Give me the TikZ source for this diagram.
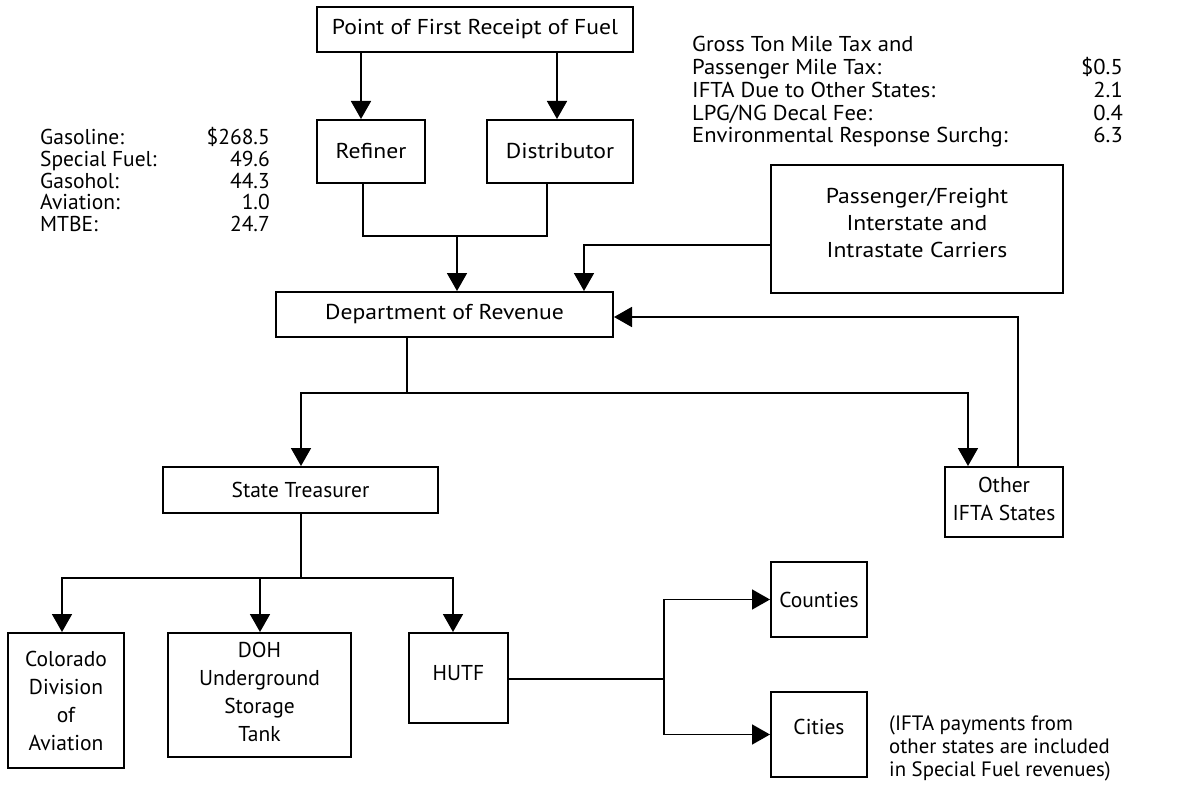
\documentclass[tikz,border=0pt]{standalone}
\usepackage{fontspec}
\setmainfont{PT Sans}
\newfontfamily\wfont{PT Sans}[FakeStretch=1.1]
\newfontfamily\rfont{PT Sans}[FakeStretch=1.05]
\usetikzlibrary{arrows.meta}
\begin{document}
\begin{tikzpicture}[x=1pt,y=-1pt,
  box/.style={draw,line width=2pt,inner sep=0pt,align=center,
    font=\fontsize{21.5}{28}\selectfont},
  wbox/.style={box,font=\wfont\fontsize{21.5}{27}\selectfont},
  txt/.style={inner sep=0pt,font=\fontsize{21.5}{22}\selectfont},
  rtxt/.style={inner sep=0pt,font=\rfont\fontsize{21.5}{22}\selectfont},
  ntxt/.style={inner sep=0pt,font=\fontsize{20.8}{22}\selectfont},
  ln/.style={line width=1.7pt},
  arr/.style={line width=1.7pt,-{Triangle[length=18pt,width=20pt]}}]
\useasboundingbox (0,0) rectangle (1195,789);
% boxes
\node[wbox,minimum width=316pt,minimum height=45pt] (pfr) at (475,29.5) {Point of First Receipt of Fuel};
\node[wbox,minimum width=108pt,minimum height=63pt] (refiner) at (371,151.5) {Refiner};
\node[wbox,minimum width=146pt,minimum height=63pt] (dist) at (560,151.5) {Distributor};
\node[wbox,minimum width=292pt,minimum height=128pt] (pass) at (917,229) {};
\node[wbox,draw=none,inner sep=0pt] (passtext) at (917,223) {Passenger/Freight\\Interstate and\\Intrastate Carriers};
\node[wbox,minimum width=337pt,minimum height=45pt] (dor) at (444.5,314.5) {Department of Revenue};
\node[box,minimum width=275pt,minimum height=46pt] (st) at (300.5,490) {State Treasurer};
\node[box,minimum width=118pt,minimum height=70pt] (other) at (1004,502) {};
\node[box,draw=none] (othertext) at (1004,499) {Other\\IFTA States};
\node[box,minimum width=116pt,minimum height=135pt] (col) at (66,700.5) {Colorado\\Division\\of\\Aviation};
\node[box,minimum width=183pt,minimum height=124pt] (doh) at (259.5,695) {};
\node[box,draw=none] (dohtext) at (259.5,691.5) {DOH\\Underground\\Storage\\Tank};
\node[box,minimum width=99pt,minimum height=90pt] (hutf) at (458.5,678) {\raisebox{10pt}{HUTF}};
\node[box,minimum width=96pt,minimum height=75pt] (counties) at (819,599.5) {Counties};
\node[box,minimum width=96pt,minimum height=85pt] (cities) at (819,734.5) {\raisebox{15pt}{Cities}};
% left list
\foreach \n/\l/\v [count=\i] in {0/Gasoline:/\$268.5, 1/Special Fuel:/49.6, 2/Gasohol:/44.3, 3/Aviation:/1.0, 4/MTBE:/24.7}{
  \node[txt,anchor=base west] (ll\i) at (40,{145+21.6*\n}) {\l};
  \node[txt,anchor=base east] (lv\i) at (270,{145+21.6*\n}) {\v};
}
% right list
\node[rtxt,anchor=base west] (rl0) at (692,52) {Gross Ton Mile Tax and};
\foreach \n/\l/\v [count=\i] in {1/Passenger Mile Tax:/\$0.5, 2/IFTA Due to Other States:/2.1, 3/{LPG/NG Decal Fee:}/0.4, 4/Environmental Response Surchg:/6.3}{
  \node[rtxt,anchor=base west] (rl\i) at (692,{52+22.7*\n}) {\l};
  \node[rtxt,anchor=base east] (rv\i) at (1123,{52+22.7*\n}) {\v};
}
% note
\node[ntxt,anchor=base west] (n1) at (889,730) {(IFTA payments from};
\node[ntxt,anchor=base west] (n2) at (889,753) {other states are included};
\node[ntxt,anchor=base west] (n3) at (889,776) {in Special Fuel revenues)};
% coordinates
\coordinate (a1) at (361,0);
\coordinate (a2) at (557,0);
\coordinate (b1) at (363,0);
\coordinate (b2) at (547,0);
\coordinate (j1) at (457,236);
\coordinate (k) at (584,245);
\coordinate (m) at (1018,317);
\coordinate (j2) at (407,393);
\coordinate (c1) at (301,0);
\coordinate (c2) at (968,0);
\coordinate (j3) at (301,578);
\coordinate (d1) at (62,0);
\coordinate (d2) at (260,0);
\coordinate (d3) at (453,0);
\coordinate (j4) at (664,679);
% connectors
\draw[arr] (a1 |- pfr.south) -- (a1 |- refiner.north);
\draw[arr] (a2 |- pfr.south) -- (a2 |- dist.north);
\draw[ln] (b1 |- refiner.south) |- (j1) -| (b2 |- dist.south);
\draw[arr] (j1) -- (j1 |- dor.north);
\draw[arr] (k -| pass.west) -- (k) -- (k |- dor.north);
\draw[arr] (m |- other.north) -- (m) -- (m -| dor.east);
\draw[ln] (j2 |- dor.south) -- (j2);
\draw[arr] (j2) -| (c1 |- st.north);
\draw[arr] (j2) -| (c2 |- other.north);
\draw[ln] (c1 |- st.south) -- (j3);
\draw[arr] (j3) -| (d1 |- col.north);
\draw[arr] (d2 |- j3) -- (d2 |- doh.north);
\draw[arr] (j3) -| (d3 |- hutf.north);
\draw[ln] (j4 -| hutf.east) -- (j4);
\draw[arr] (j4) |- (counties.west);
\draw[arr] (j4) |- (cities.west);
\end{tikzpicture}
\end{document}
